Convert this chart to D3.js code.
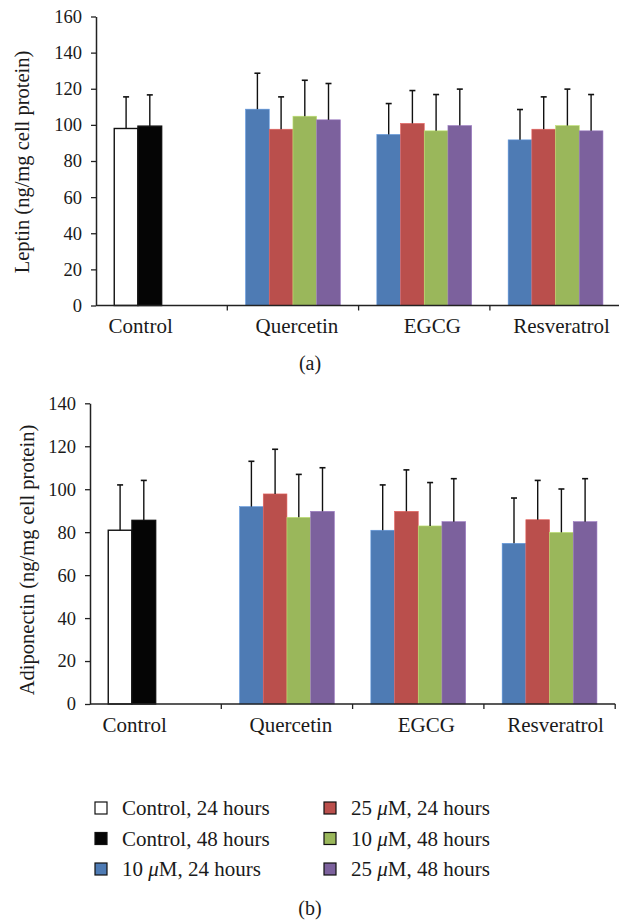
<!DOCTYPE html>
<html>
<head>
<meta charset="utf-8">
<script src="https://cdn.jsdelivr.net/npm/d3@7/dist/d3.min.js"></script>
<style>
  html, body { margin: 0; padding: 0; background: #fff; }
  svg { display: block; }
  text { font-family: "Liberation Serif", "DejaVu Serif", serif; fill: #1a1a1a; }
</style>
</head>
<body>
<svg id="chart" width="619" height="923"></svg>
<script>
// ---------------- DATA ----------------
const categories = ["Control", "Quercetin", "EGCG", "Resveratrol"];

// Slot 1..4 within each category (Control only uses slots 1 and 2)
const leptinSlot1 = [98, 108.7, 94.7, 91.7];
const leptinSlot2 = [99.3, 97.6, 100.8, 97.6];
const leptinSlot3 = [null, 104.8, 96.7, 99.6];
const leptinSlot4 = [null, 102.8, 99.6, 96.7];
const leptinErr1 = [17.5, 19.9, 17.1, 16.8];
const leptinErr2 = [17.3, 17.9, 18.2, 17.9];
const leptinErr3 = [null, 19.9, 20.1, 20.2];
const leptinErr4 = [null, 20.1, 20.2, 20.1];

const adipoSlot1 = [80.9, 91.9, 80.9, 74.8];
const adipoSlot2 = [85.5, 97.8, 89.7, 85.8];
const adipoSlot3 = [null, 86.9, 82.9, 79.9];
const adipoSlot4 = [null, 89.7, 84.9, 84.9];
const adipoErr1 = [21.1, 21.1, 21.1, 21.1];
const adipoErr2 = [18.6, 20.8, 19.3, 18.3];
const adipoErr3 = [null, 20.0, 20.2, 20.2];
const adipoErr4 = [null, 20.3, 20.0, 20.0];

const leptinTicks = [0, 20, 40, 60, 80, 100, 120, 140, 160];
const adipoTicks = [0, 20, 40, 60, 80, 100, 120, 140];

const legendLabels = [
  "Control, 24 hours", "Control, 48 hours", "10 μM, 24 hours",
  "25 μM, 24 hours", "10 μM, 48 hours", "25 μM, 48 hours"
];

// ---------------- STYLE ----------------
const FONT = '"Liberation Serif", "DejaVu Serif", serif';
const treatColors = ["#4E7BB4", "#BA4F4C", "#9AB75B", "#7C619D"];
const controlColors = ["#ffffff", "#050505"];
const legendColors = ["#ffffff", "#050505", "#4E7BB4", "#BA4F4C", "#9AB75B", "#7C619D"];
const labelOffsets = [-21, 4, 8, 6];

const svg = d3.select("#chart");

function drawPanel(opts) {
  const { left, top, bottom, domainMax, ticks, slots, errs, title, titleX, titleY, labelY } = opts;
  const width = 4 * 131.3;
  const x0 = d3.scaleBand().domain(categories).range([left, left + width]).padding(0);
  const x1 = d3.scaleBand().domain([0, 1, 2, 3]).range([0, x0.bandwidth()]).paddingInner(0).paddingOuter(0.77);
  const y = d3.scaleLinear().domain([0, domainMax]).range([bottom, top]);
  const g = svg.append("g");

  categories.forEach((cat, ci) => {
    slots.forEach((arr, si) => {
      const v = arr[ci];
      if (v == null) return;
      const isControl = ci === 0;
      const fill = isControl ? controlColors[si] : treatColors[si];
      const bx = x0(cat) + x1(si);
      g.append("rect")
        .attr("x", bx)
        .attr("y", y(v))
        .attr("width", x1.bandwidth())
        .attr("height", y(0) - y(v))
        .attr("fill", fill)
        .attr("stroke", isControl ? "#111" : d3.color(fill).brighter(0.6))
        .attr("stroke-width", isControl ? 1.4 : 0.6);
      const e = errs[si][ci];
      const cx = bx + x1.bandwidth() / 2;
      g.append("line")
        .attr("x1", cx).attr("x2", cx)
        .attr("y1", y(v)).attr("y2", y(v + e))
        .attr("stroke", "#111").attr("stroke-width", 1.4);
      g.append("line")
        .attr("x1", cx - 3).attr("x2", cx + 3)
        .attr("y1", y(v + e)).attr("y2", y(v + e))
        .attr("stroke", "#111").attr("stroke-width", 1.6);
    });
  });

  const yAxis = d3.axisLeft(y).tickValues(ticks).tickSize(5).tickSizeOuter(0).tickPadding(9);
  const ya = g.append("g").attr("transform", `translate(${left},0)`).call(yAxis);
  ya.attr("font-family", null);
  ya.select(".domain").attr("stroke", "#222").attr("stroke-width", 1.5);
  ya.selectAll(".tick line").attr("stroke", "#222").attr("stroke-width", 1.3);
  ya.selectAll(".tick text").style("font-family", FONT).style("font-size", "18.5px").attr("fill", "#1a1a1a");

  g.append("line").attr("x1", left).attr("x2", left + width)
    .attr("y1", y(0)).attr("y2", y(0))
    .attr("stroke", "#222").attr("stroke-width", 1.6);
  categories.forEach((cat, ci) => {
    if (ci === 0) return;
    const tx = x0(cat);
    g.append("line").attr("x1", tx).attr("x2", tx)
      .attr("y1", y(0)).attr("y2", y(0) + 5)
      .attr("stroke", "#222").attr("stroke-width", 1.3);
  });
  const endX = left + width;
  g.append("line").attr("x1", endX).attr("x2", endX)
    .attr("y1", y(0)).attr("y2", y(0) + 5)
    .attr("stroke", "#222").attr("stroke-width", 1.3);

  categories.forEach((cat, ci) => {
    g.append("text")
      .attr("x", x0(cat) + x0.bandwidth() / 2 + labelOffsets[ci])
      .attr("y", labelY)
      .attr("text-anchor", "middle")
      .style("font-family", FONT)
      .style("font-size", "21px")
      .text(cat);
  });

  g.append("text")
    .attr("transform", `translate(${titleX},${titleY}) rotate(-90)`)
    .attr("text-anchor", "middle")
    .style("font-family", FONT)
    .style("font-size", "20.5px")
    .text(title);
}

drawPanel({
  left: 96, top: 16.5, bottom: 305.5, domainMax: 160, ticks: leptinTicks,
  slots: [leptinSlot1, leptinSlot2, leptinSlot3, leptinSlot4],
  errs: [leptinErr1, leptinErr2, leptinErr3, leptinErr4],
  title: "Leptin (ng/mg cell protein)", titleX: 29, titleY: 162, labelY: 333
});

drawPanel({
  left: 90, top: 403.3, bottom: 704, domainMax: 140, ticks: adipoTicks,
  slots: [adipoSlot1, adipoSlot2, adipoSlot3, adipoSlot4],
  errs: [adipoErr1, adipoErr2, adipoErr3, adipoErr4],
  title: "Adiponectin (ng/mg cell protein)", titleX: 34, titleY: 560, labelY: 731.5
});

svg.append("text").attr("x", 310).attr("y", 370).attr("text-anchor", "middle").style("font-family", FONT).style("font-size", "20px").text("(a)");
svg.append("text").attr("x", 310).attr("y", 915).attr("text-anchor", "middle").style("font-family", FONT).style("font-size", "20px").text("(b)");

const legCols = [{ sx: 95, tx: 122 }, { sx: 324, tx: 351 }];
const legRows = [815, 845.5, 876];
legendLabels.forEach((lab, i) => {
  const col = legCols[Math.floor(i / 3)];
  const by = legRows[i % 3];
  svg.append("rect")
    .attr("x", col.sx).attr("y", by - 13)
    .attr("width", 12).attr("height", 12)
    .attr("fill", legendColors[i])
    .attr("stroke", "#111").attr("stroke-width", 1.2);
  const t = svg.append("text").attr("x", col.tx).attr("y", by).style("font-family", FONT).style("font-size", "21px");
  const parts = lab.split("μ");
  if (parts.length === 2) {
    t.append("tspan").text(parts[0]);
    t.append("tspan").style("font-style", "italic").text("μ");
    t.append("tspan").text(parts[1]);
  } else {
    t.text(lab);
  }
});
</script>
</body>
</html>
